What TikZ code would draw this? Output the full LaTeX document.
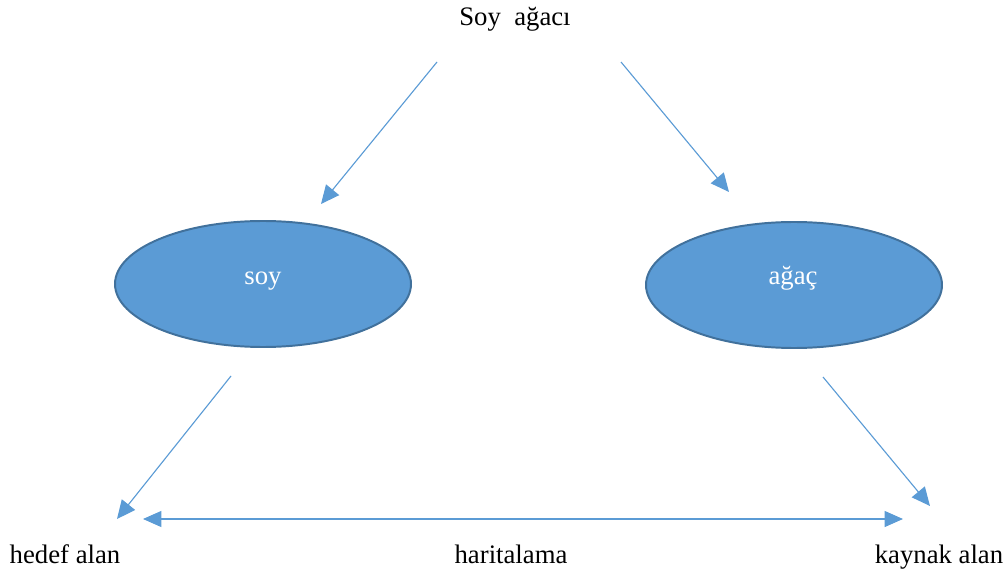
\documentclass[tikz,border=0pt]{standalone}
\usepackage{fontspec}
\setmainfont{Liberation Serif}
\usetikzlibrary{arrows.meta,shapes.geometric}
\definecolor{blueA}{HTML}{5B9BD5}
\definecolor{blueB}{HTML}{41719C}
\begin{document}
\begin{tikzpicture}[x=0.025cm,y=-0.025cm,
  every node/.style={font=\fontsize{19}{23}\selectfont},
  lbl/.style={anchor=base},
  blob/.style={ellipse,draw=blueB,fill=blueA,line width=1.4pt,minimum width=296*0.025cm,minimum height=126*0.025cm,inner sep=0pt},
  arr/.style={draw=blueA,line width=0.8pt,-{Triangle[length=0.46cm,width=0.42cm]}},
  darr/.style={draw=blueA,line width=0.8pt,{Triangle[length=0.46cm,width=0.4cm]}-{Triangle[length=0.46cm,width=0.4cm]}}]
\useasboundingbox (0,0) rectangle (1008,571);
% labels
\node[lbl] (top) at (515,26) {Soy\ \ ağacı};
\node[lbl] (hedef) at (65,563) {hedef alan};
\node[lbl] (harita) at (511,563) {haritalama};
\node[lbl] (kaynak) at (939,563) {kaynak alan};
% the two ellipses
\node[blob] (soy) at (263,284) {};
\node[lbl,text=white] (soylbl) at (263,284) {soy};
\node[blob] (agac) at (794,285) {};
\node[lbl,text=white] (agaclbl) at (793,285) {ağaç};
% arrow ends
\coordinate (t1) at (437,62);
\coordinate (t2) at (321,204);
\coordinate (t3) at (621,62);
\coordinate (t4) at (729,192);
\coordinate (b1) at (231,376);
\coordinate (b2) at (117,519);
\coordinate (b3) at (823,377);
\coordinate (b4) at (930,506);
\coordinate (h1) at (143,519);
\coordinate (h2) at (903,519);
\draw[arr] (t1) -- (t2);
\draw[arr] (t3) -- (t4);
\draw[arr] (b1) -- (b2);
\draw[arr] (b3) -- (b4);
\draw[darr] (h1) -- (h2);
\end{tikzpicture}
\end{document}
